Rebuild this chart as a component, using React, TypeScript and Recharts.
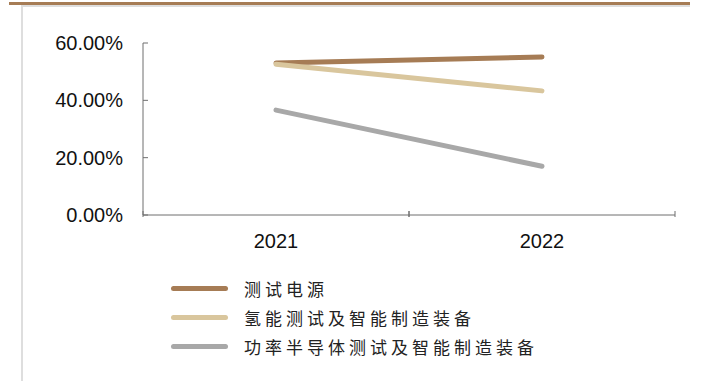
import { LineChart, Line, XAxis, YAxis } from 'recharts';

const years = ['2021', '2022'];
const testPower = [53.0, 55.1];
const hydrogenTest = [52.6, 43.3];
const semiTest = [36.6, 17.0];
const yTicks = [0, 20, 40, 60];

const series = [
  { key: 'testPower', name: '测试电源', color: '#A67C55', values: testPower },
  { key: 'hydrogenTest', name: '氢能测试及智能制造装备', color: '#D9C69D', values: hydrogenTest },
  { key: 'semiTest', name: '功率半导体测试及智能制造装备', color: '#A8A8A8', values: semiTest },
];

const data = years.map((year, i) => {
  const row: any = { year };
  series.forEach(s => { row[s.key] = s.values[i]; });
  return row;
});

const AXIS = '#6f6f6f';
const FONT = '"Liberation Sans", Arial, sans-serif';

// y ticks: label on the left, short tick mark pointing into the plot
const YTick = ({ x, y, payload }: any) => (
  <g>
    <line x1={x + 20} x2={x + 25} y1={y} y2={y} stroke={AXIS} strokeWidth={1} />
    <text x={x} y={y} dy={7} textAnchor="end" fill="#111" fontSize={20} fontFamily={FONT}>
      {`${payload.value.toFixed(2)}%`}
    </text>
  </g>
);

// x ticks: label at band centre, tick marks at band edges pointing up
const XTick = ({ x, y, payload }: any) => {
  const half = payload.offset || 0;
  return (
    <g>
      <line x1={x - half} x2={x - half} y1={y} y2={y - 6} stroke={AXIS} strokeWidth={1} />
      <line x1={x + half} x2={x + half} y1={y} y2={y - 6} stroke={AXIS} strokeWidth={1} />
      <text x={x} y={y} dy={31} textAnchor="middle" fill="#111" fontSize={20} fontFamily={FONT}>
        {payload.value}
      </text>
    </g>
  );
};

export default function App() {
  return (
    <div style={{ position: 'absolute', left: 0, top: 0, width: 708, height: 381, background: '#fff', overflow: 'hidden' }}>
      <div style={{ position: 'absolute', left: 9, top: 2, width: 681, height: 3, background: '#A67C55' }} />
      <div style={{ position: 'absolute', left: 22, top: 5, width: 668, height: 2, background: '#DEDEDE' }} />
      <div style={{ position: 'absolute', left: 21, top: 5, width: 2, height: 376, background: '#DEDEDE' }} />

      <div style={{ position: 'absolute', left: 0, top: 0 }}>
        <LineChart width={708} height={381} data={data} margin={{ top: 43, right: 33, bottom: 0, left: 63 }}>
          <XAxis
            dataKey="year"
            scale="band"
            height={166}
            tickSize={0}
            tickLine={false}
            axisLine={{ stroke: AXIS, strokeWidth: 1 }}
            tick={<XTick />}
            interval={0}
          />
          <YAxis
            width={80}
            domain={[0, 60]}
            ticks={yTicks}
            tickSize={0}
            tickMargin={20}
            tickLine={false}
            axisLine={{ stroke: AXIS, strokeWidth: 1 }}
            tick={<YTick />}
            interval={0}
          />
          {series.map(s => (
            <Line
              key={s.key}
              dataKey={s.key}
              name={s.name}
              stroke={s.color}
              strokeWidth={5}
              strokeLinecap="round"
              dot={false}
              activeDot={false}
              isAnimationActive={false}
            />
          ))}
        </LineChart>
      </div>

      {series.map((s, i) => (
        <div key={s.key} style={{ position: 'absolute', left: 171, top: 278 + i * 29, height: 20, display: 'flex', alignItems: 'center' }}>
          <div style={{ width: 57, height: 5, borderRadius: 3, background: s.color }} />
          <span style={{ marginLeft: 16, fontSize: 17, letterSpacing: 4, color: '#222', fontFamily: '"Noto Sans CJK SC", sans-serif', whiteSpace: 'nowrap' }}>
            {s.name}
          </span>
        </div>
      ))}
    </div>
  );
}
